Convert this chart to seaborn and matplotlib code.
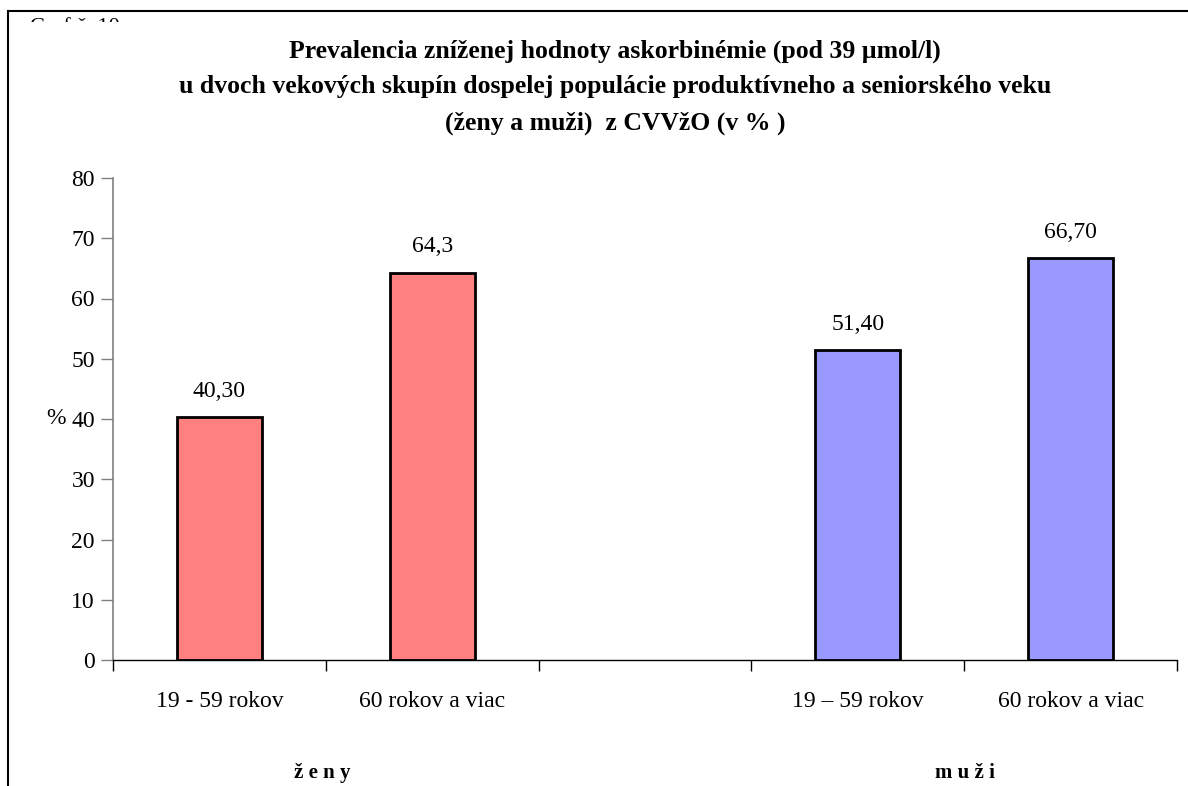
import numpy as np
import pandas as pd
import matplotlib
matplotlib.use("Agg")
import matplotlib.pyplot as plt
from matplotlib.patches import Rectangle
import seaborn as sns

# ---- data ----
slots = ["z_19", "z_60", "gap", "m_19", "m_60"]
tick_labels = ["19 - 59 rokov", "60 rokov a viac", "", "19 \u2013 59 rokov", "60 rokov a viac"]
bar_keys = ["z_19", "z_60", "m_19", "m_60"]
bar_values = [40.30, 64.3, 51.40, 66.70]
bar_groups = ["ženy", "ženy", "muži", "muži"]
value_labels = ["40,30", "64,3", "51,40", "66,70"]
group_names = ["ž e n y", "m u ž i"]
y_ticks = [0, 10, 20, 30, 40, 50, 60, 70, 80]
title = ("Prevalencia zníženej hodnoty askorbinémie (pod 39 \u00b5mol/l)\n"
         "u dvoch vekových skupín dospelej populácie produktívneho a seniorského veku\n"
         "(ženy a muži)  z CVVžO (v % )")

colors = {"ženy": "#FF8080", "muži": "#9999FF"}

sns.set_theme(style="white")
plt.rcParams["font.family"] = ["Liberation Serif", "DejaVu Serif"]
plt.rcParams["text.color"] = "black"
plt.rcParams["xtick.color"] = "black"
plt.rcParams["ytick.color"] = "black"
plt.rcParams["axes.labelcolor"] = "black"

df = pd.DataFrame({"slot": bar_keys, "value": bar_values, "group": bar_groups})

fig = plt.figure(figsize=(11.88, 7.86), dpi=100)
ax = fig.add_axes([113/1188, 1 - 660/786, (1177-113)/1188, (660-178)/786])

sns.barplot(data=df, x="slot", y="value", hue="group", order=slots,
            palette=colors, dodge=False, width=0.4, edgecolor="black",
            linewidth=2, saturation=1, legend=False, ax=ax)

ax.set_xlim(-0.5, len(slots) - 0.5)
ax.set_ylim(0, 80)
ax.set_yticks(y_ticks)
ax.set_yticklabels([str(v) for v in y_ticks], fontsize=17)

# boundary ticks (major) and centred labels (minor)
ax.set_xticks(np.arange(-0.5, len(slots), 1.0))
ax.set_xticklabels([])
ax.set_xticks(np.arange(len(slots)), minor=True)
ax.set_xticklabels(tick_labels, minor=True, fontsize=17)
ax.tick_params(axis="x", which="major", direction="out", length=8, width=1, color="black", bottom=True)
ax.tick_params(axis="x", which="minor", length=0, pad=22)
ax.tick_params(axis="y", which="major", direction="out", length=9, width=1, color="#808080", left=True, pad=4)

ax.set_xlabel("")
ax.set_ylabel("%", rotation=0, fontsize=17, va="center", ha="center")
ax.yaxis.set_label_coords(-0.054, 0.5)

for s in ["top", "right"]:
    ax.spines[s].set_visible(False)
ax.spines["left"].set_color("#808080")
ax.spines["left"].set_linewidth(1.2)
ax.spines["bottom"].set_color("black")
ax.spines["bottom"].set_linewidth(1)

# value labels
for key, val, lab in zip(bar_keys, bar_values, value_labels):
    xi = slots.index(key)
    ax.annotate(lab, (xi, val), xytext=(0, 11), textcoords="offset points",
                ha="center", va="bottom", fontsize=17)

# title
fig.text(615/1188, 1 - 87/786, title, ha="center", va="center",
         fontsize=18.5, fontweight="bold", linespacing=1.72)

# group labels
fig.text(322/1188, 1 - 773/786, group_names[0], ha="center", va="center", fontsize=15, fontweight="bold")
fig.text(965/1188, 1 - 773/786, group_names[1], ha="center", va="center", fontsize=15, fontweight="bold")

# figure frame
fig.add_artist(Rectangle((8/1188, -0.1), 1.2, 1 - 11/786 + 0.1, transform=fig.transFigure,
                         fill=False, edgecolor="black", linewidth=1.5))

# partially hidden caption at top-left
clip = Rectangle((0, 1 - 22/786), 0.3, 11/786, transform=fig.transFigure, visible=False)
fig.add_artist(clip)
cap = fig.text(30/1188, 1 - 18/786, "Graf č. 10", ha="left", va="top", fontsize=16)
cap.set_clip_path(clip)

fig.savefig("out.png", dpi=100)
